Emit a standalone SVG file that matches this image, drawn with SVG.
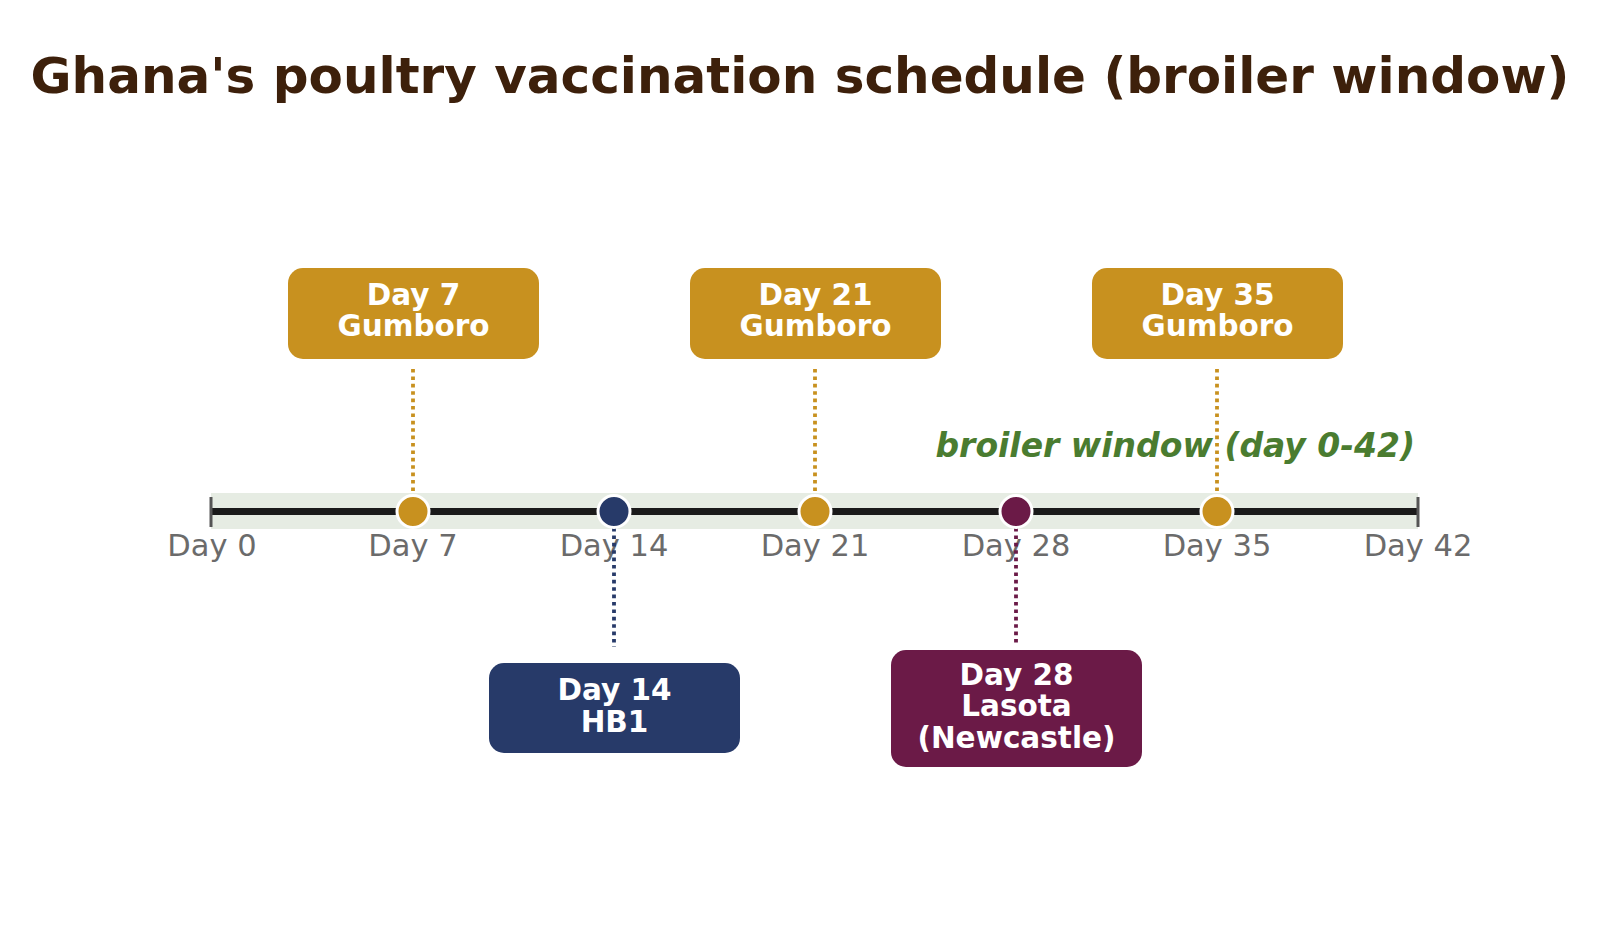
<svg xmlns="http://www.w3.org/2000/svg" width="1600" height="951" viewBox="0 0 1600 951">
<style>
.title{font-family:"DejaVu Sans",sans-serif;font-weight:bold;font-size:50px;fill:#3d200b;text-anchor:middle}
.tick{font-family:"DejaVu Sans",sans-serif;font-size:30.5px;fill:#6b6b6b;text-anchor:middle}
.lbl{font-family:"DejaVu Sans",sans-serif;font-weight:bold;font-size:29.5px;fill:#ffffff;text-anchor:middle}
.win{font-family:"DejaVu Sans",sans-serif;font-weight:bold;font-style:italic;font-size:33px;fill:#4a7c30;text-anchor:end}
.conn{fill:none;stroke-width:3.8;stroke-dasharray:3.6 3.8}
.dot{stroke:#ffffff;stroke-width:3}
.gold{fill:#c8911f}.navy{fill:#273a69}.maroon{fill:#6b1a47}
</style>
<rect width="1600" height="951" fill="#ffffff"/>
<text class="title" x="800" y="93">Ghana's poultry vaccination schedule (broiler window)</text>

<g id="axis">
<rect x="211" y="493" width="1207" height="36" fill="#e6ece3"/>
<line x1="211" y1="511.5" x2="1418" y2="511.5" stroke="#1a1a1a" stroke-width="7"/>
<line x1="211" y1="497" x2="211" y2="527" stroke="#555555" stroke-width="3"/>
<line x1="1418" y1="497" x2="1418" y2="527" stroke="#555555" stroke-width="3"/>
<text class="tick" x="212" y="556">Day 0</text>
<text class="tick" x="413" y="556">Day 7</text>
<text class="tick" x="614" y="556">Day 14</text>
<text class="tick" x="815" y="556">Day 21</text>
<text class="tick" x="1016" y="556">Day 28</text>
<text class="tick" x="1217" y="556">Day 35</text>
<text class="tick" x="1418" y="556">Day 42</text>
</g>

<text class="win" x="1415" y="457">broiler window (day 0-42)</text>

<g id="connectors">
<line class="conn" x1="413" y1="369" x2="413" y2="495" stroke="#c8911f"/>
<line class="conn" x1="815" y1="369" x2="815" y2="495" stroke="#c8911f"/>
<line class="conn" x1="1217" y1="369" x2="1217" y2="495" stroke="#c8911f"/>
<line class="conn" x1="614" y1="528" x2="614" y2="647" stroke="#273a69"/>
<line class="conn" x1="1016" y1="528" x2="1016" y2="643" stroke="#6b1a47"/>
</g>

<g id="markers">
<circle class="dot gold" cx="413" cy="511.5" r="16"/>
<circle class="dot navy" cx="614" cy="511.5" r="16"/>
<circle class="dot gold" cx="815" cy="511.5" r="16"/>
<circle class="dot maroon" cx="1016" cy="511.5" r="16"/>
<circle class="dot gold" cx="1217" cy="511.5" r="16"/>
</g>

<g id="day7">
<rect class="gold" x="288" y="268" width="251" height="91" rx="15"/>
<text class="lbl" x="413.5" y="305">Day 7</text>
<text class="lbl" x="413.5" y="336">Gumboro</text>
</g>
<g id="day21">
<rect class="gold" x="690" y="268" width="251" height="91" rx="15"/>
<text class="lbl" x="815.5" y="305">Day 21</text>
<text class="lbl" x="815.5" y="336">Gumboro</text>
</g>
<g id="day35">
<rect class="gold" x="1092" y="268" width="251" height="91" rx="15"/>
<text class="lbl" x="1217.5" y="305">Day 35</text>
<text class="lbl" x="1217.5" y="336">Gumboro</text>
</g>
<g id="day14">
<rect class="navy" x="489" y="663" width="251" height="90" rx="15"/>
<text class="lbl" x="614.5" y="700">Day 14</text>
<text class="lbl" x="614.5" y="732">HB1</text>
</g>
<g id="day28">
<rect class="maroon" x="891" y="650" width="251" height="117" rx="15"/>
<text class="lbl" x="1016.5" y="685">Day 28</text>
<text class="lbl" x="1016.5" y="716">Lasota</text>
<text class="lbl" x="1016.5" y="748">(Newcastle)</text>
</g>
</svg>
